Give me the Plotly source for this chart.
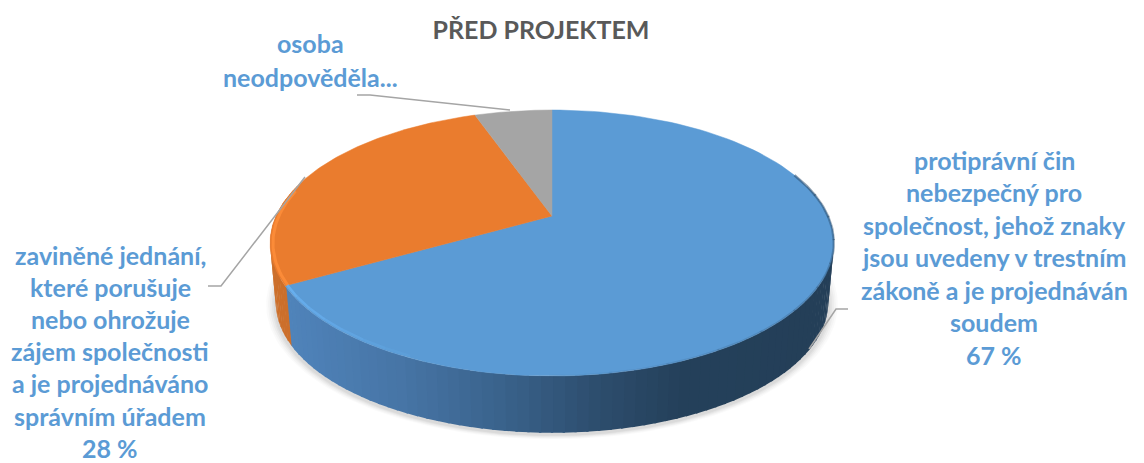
import numpy as np
import plotly.graph_objects as go

# --- data ---
categories = ["protiprávní čin", "zaviněné jednání", "osoba neodpověděla"]
values = [66.8, 27.8, 5.4]
slice_colors = ["#5b9bd5", "#ea7c2e", "#a5a5a5"]
title_text = "PŘED PROJEKTEM"
label_blue = ["protiprávní čin", "nebezpečný pro", "společnost, jehož znaky",
              "jsou uvedeny v trestním", "zákoně a je projednáván", "soudem", "67 %"]
label_orange = ["zaviněné jednání,", "které porušuje", "nebo ohrožuje",
                "zájem společnosti", "a je projednáváno", "správním úřadem", "28 %"]
label_gray = ["osoba", "neodpověděla..."]

# --- pie geometry (perspective projection of a disc) ---
CX, CY = 552.0, 216.0
A, B, K = 276.0, 127.5, 0.203
WALL_SCALE, WALL_SHIFT = 0.98, 60.0
W, H = 1144, 463


def rim(theta_deg):
    t = np.radians(theta_deg)
    u, v = np.sin(t), np.cos(t)
    w = 1 + K * v
    return CX + A * u / w, CY - B * v / w


def lower(x, y):
    return CX + (x - CX) * WALL_SCALE, CY + (y - CY) * WALL_SCALE + WALL_SHIFT


def poly(x, y, color, line=0.0):
    return go.Scatter(x=list(x), y=list(y), mode="lines", fill="toself", fillcolor=color,
                      line=dict(color=color, width=line), hoverinfo="skip", showlegend=False)


def stroke(x, y, color, width):
    return go.Scatter(x=list(x), y=list(y), mode="lines",
                      line=dict(color=color, width=width, shape="linear"),
                      hoverinfo="skip", showlegend=False)


fig = go.Figure()
total = sum(values)
edges = np.concatenate([[0.0], np.cumsum(values) / total * 360.0])

# soft shadow under the wall
full = np.linspace(0, 360, 241)
rx, ry = rim(full)
bx, by = lower(rx, ry)
for grow, alpha in zip([1.035, 1.028, 1.021, 1.014, 1.008], [0.02, 0.025, 0.03, 0.035, 0.04]):
    sx = CX + (bx - CX) * grow
    sy = (CY + 87) + (by - (CY + 87)) * grow + 2
    fig.add_trace(poly(sx, sy, f"rgba(0,0,0,{alpha})"))

# side wall, drawn as short strips following the rim
wall_x = [285, 400, 500, 600, 680, 840]
wall_r = [0x50, 0x47, 0x3a, 0x2d, 0x25, 0x24]
wall_g = [0x84, 0x75, 0x63, 0x4d, 0x41, 0x3f]
wall_b = [0xbb, 0xa6, 0x8c, 0x6d, 0x5b, 0x58]
split = edges[1]
steps = np.arange(76, 286, 2.0)
for a0 in steps:
    a1 = a0 + 2.0
    mid = (a0 + a1) / 2
    x0, y0 = rim(a0 - 0.2)
    x1, y1 = rim(a1 + 0.2)
    xb0, yb0 = lower(x0, y0)
    xb1, yb1 = lower(x1, y1)
    mx = (x0 + x1) / 2
    if mid > split:
        col = "#cc6f2b"
    else:
        col = "rgb(%d,%d,%d)" % (np.interp(mx, wall_x, wall_r),
                                 np.interp(mx, wall_x, wall_g),
                                 np.interp(mx, wall_x, wall_b))
    fig.add_trace(poly([x0, x1, xb1, xb0, x0], [y0, y1, yb1, yb0, y0], col))

# top face
for i, col in enumerate(slice_colors):
    th = np.linspace(edges[i], edges[i + 1], 120)
    x, y = rim(th)
    fig.add_trace(poly(np.r_[CX, x, CX], np.r_[CY, y, CY], col, 0.5))

# rim bevel
th = np.linspace(split, 282, 40)
x, y = rim(th)
fig.add_trace(stroke(CX + (x - CX) * 0.99, CY + 27 + (y - CY - 27) * 0.99, "#fb8b38", 3))
th = np.linspace(split, 205, 8)
for j in range(len(th) - 1):
    seg = np.linspace(th[j], th[j + 1], 12)
    x, y = rim(seg)
    op = 0.9 - j * 0.12
    fig.add_trace(stroke(CX + (x - CX) * 0.992, CY + 27 + (y - CY - 27) * 0.985,
                         f"rgba(104,176,240,{op:.2f})", 2.5))
th = np.linspace(70, 180, 12)
for j in range(len(th) - 1):
    seg = np.linspace(th[j], th[j + 1] + 0.5, 10)
    x, y = rim(seg)
    op = 0.5 * (1 - j / 11)
    fig.add_trace(stroke(x, y, f"rgba(40,70,100,{op:.2f})", 2.5))

# leader lines
leaders_x = [[357, 370, 510], [208, 221, 305], [848, 836, 809]]
leaders_y = [[95, 95, 110], [286, 286, 177], [309, 309, 349]]
for lx, ly in zip(leaders_x, leaders_y):
    fig.add_trace(stroke(lx, ly, "#a5a5a5", 1.5))

# labels
ann = []
blocks = [(label_blue, 994, 159.5, 32.5), (label_orange, 110, 255, 32.1), (label_gray, 310, 43, 34)]
for lines, xc, y0, step in blocks:
    for n, txt in enumerate(lines):
        ann.append(dict(x=xc, y=y0 + n * step, xref="x", yref="y", text=f"<b>{txt}</b>",
                        showarrow=False, xanchor="center", yanchor="middle", borderpad=0,
                        font=dict(family="Lato", size=25, color="#5b9bd5")))

fig.update_layout(
    width=W, height=H, margin=dict(l=0, r=0, t=0, b=0),
    paper_bgcolor="white", plot_bgcolor="white", showlegend=False,
    title=dict(text=f"<b>{title_text}</b>", x=541 / W, xanchor="center", y=1 - 30 / H,
               yanchor="middle", yref="container", font=dict(family="Lato", size=25, color="#595959")),
    xaxis=dict(range=[0, W], visible=False, fixedrange=True),
    yaxis=dict(range=[H, 0], visible=False, fixedrange=True),
    annotations=ann,
)
fig.write_html("out.html", config=dict(displayModeBar=False),
               post_script="document.body.style.margin='0';document.documentElement.style.overflow='hidden';")
